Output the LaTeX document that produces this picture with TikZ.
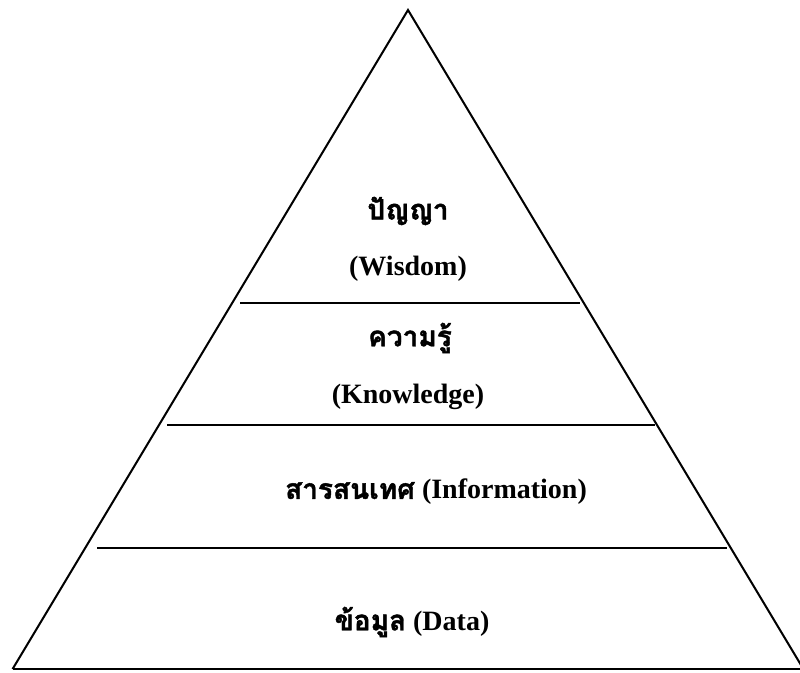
\documentclass[tikz,border=0pt]{standalone}
\usepackage{fontspec}
\setmainfont{Liberation Serif}
\newfontfamily\thaifont[Script=Thai,BoldFeatures={FakeBold=1.5}]{Loma}
\tikzset{
  edge/.style={line width=2pt, black},
  band/.style={line width=2.2pt, black},
  lbl/.style={font=\bfseries\fontsize{28}{32}\selectfont, inner sep=0pt, anchor=center},
}
\begin{document}
\begin{tikzpicture}[x=1pt,y=-1pt]
\useasboundingbox (0,0) rectangle (800,672);
\clip (0,0) rectangle (800,672);
\coordinate (apex) at (408,10);
\coordinate (bl) at (12.6,669);
\coordinate (br) at (803.4,669);
\draw[edge, line join=miter] (bl) -- (apex) -- (br);
\coordinate (l1a) at (240,303); \coordinate (l1b) at (580,303);
\coordinate (l2a) at (167,425); \coordinate (l2b) at (655,425);
\coordinate (l3a) at (97,548);  \coordinate (l3b) at (727,548);
\coordinate (l4a) at (12.6,669); \coordinate (l4b) at (800,669);
\draw[band] (l1a) -- (l1b);
\draw[band] (l2a) -- (l2b);
\draw[band] (l3a) -- (l3b);
\draw[band] (l4a) -- (l4b);
\node[lbl] (w1) at (408,211) {\thaifont ปัญญา};
\node[lbl] (w2) at (408,269) {(Wisdom)};
\node[lbl] (k1) at (410,338) {\thaifont ความรู้};
\node[lbl] (k2) at (408,397) {(Knowledge)};
\node[lbl] (i1) at (436,492) {{\thaifont สารสนเทศ} (Information)};
\node[lbl] (d1) at (412,622) {{\thaifont ข้อมูล} (Data)};
\end{tikzpicture}
\end{document}
